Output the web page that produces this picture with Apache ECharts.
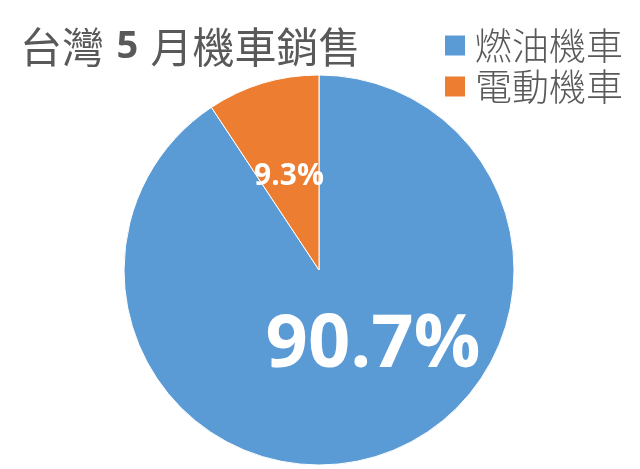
<!DOCTYPE html>
<html>
<head>
<meta charset="utf-8">
<script src="https://cdn.jsdelivr.net/npm/echarts@6/dist/echarts.min.js"></script>
<style>
html,body{margin:0;padding:0;background:#fff;}
#main{width:640px;height:469px;}
</style>
</head>
<body>
<div id="main"></div>
<script>
const titleParts = ['台灣 ', '5', ' 月機車銷售'];
const categories = ['燃油機車', '電動機車'];
const values = [90.7, 9.3];
const colors = ['#5B9BD5', '#ED7D31'];

const chart = echarts.init(document.getElementById('main'), null, {renderer: 'canvas'});
const data = categories.map((name, i) => ({
  name: name,
  value: values[i],
  itemStyle: {color: colors[i]},
  label: i === 0
    ? {fontSize: 74, offset: [25, -20]}
    : {fontSize: 30, offset: [-1, 3]}
}));

chart.setOption({
  animation: false,
  backgroundColor: '#ffffff',
  title: {
    text: '{c|' + titleParts[0] + '}{n|' + titleParts[1] + '}{c|' + titleParts[2] + '}',
    left: 20,
    top: 26,
    padding: 0,
    textStyle: {
      rich: {
        c: {fontFamily: 'Noto Sans CJK TC', fontSize: 42, fontWeight: 'normal', color: '#595959'},
        n: {fontFamily: 'Open Sans', fontSize: 38, fontWeight: 'bold', color: '#595959', padding: [0, 3, 0, 3]}
      }
    }
  },
  legend: {
    orient: 'vertical',
    left: 443,
    top: 27,
    padding: 0,
    itemWidth: 22,
    itemHeight: 22,
    itemGap: 4,
    icon: 'rect',
    data: categories,
    textStyle: {
      fontFamily: 'Noto Sans CJK TC',
      fontSize: 37,
      fontWeight: 300,
      color: '#595959',
      padding: [0, 0, 0, 4]
    }
  },
  series: [{
    type: 'pie',
    center: [319, 270],
    radius: 195,
    startAngle: 90,
    clockwise: true,
    itemStyle: {borderColor: '#ffffff', borderWidth: 1},
    label: {
      show: true,
      position: 'inside',
      formatter: '{c}%',
      color: '#ffffff',
      fontFamily: 'Open Sans',
      fontWeight: 'bold'
    },
    labelLine: {show: false},
    emphasis: {disabled: true},
    data: data
  }]
});
</script>
</body>
</html>
